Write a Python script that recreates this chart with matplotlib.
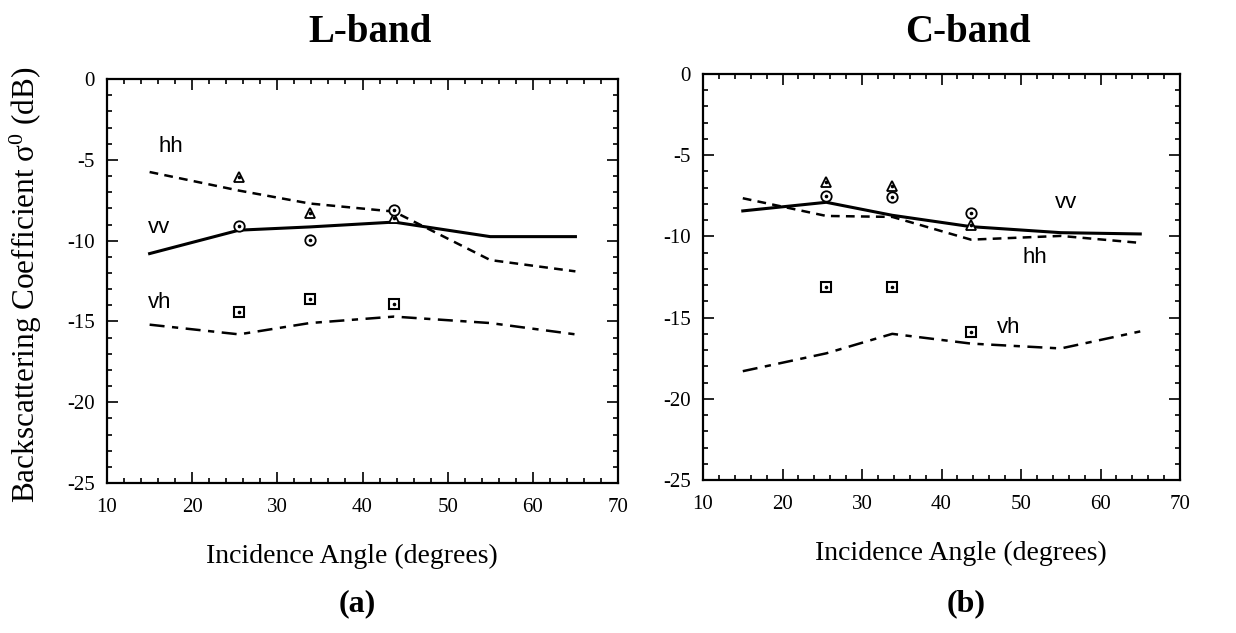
import matplotlib
matplotlib.use("Agg")
import matplotlib.pyplot as plt
from matplotlib.ticker import MultipleLocator

# === DATA ===
model_angles = [15, 25.5, 33.8, 43.7, 55, 65]
obs_angles = [25.5, 33.8, 43.7]

# L-band model curves
l_hh = [-5.75, -6.9, -7.7, -8.2, -11.2, -11.9]
l_vv = [-10.8, -9.35, -9.15, -8.85, -9.75, -9.75]
l_vh = [-15.2, -15.8, -15.1, -14.7, -15.1, -15.8]
# L-band measurements
l_hh_obs = [-6.05, -8.3, -8.6]
l_vv_obs = [-9.1, -9.95, -8.1]
l_vh_obs = [-14.4, -13.6, -13.9]

# C-band model curves
c_hh = [-7.65, -8.74, -8.8, -10.2, -9.97, -10.4]
c_vv = [-8.43, -7.9, -8.7, -9.4, -9.77, -9.85]
c_vh = [-18.3, -17.2, -16.0, -16.6, -16.9, -15.85]
# C-band measurements
c_hh_obs = [-6.65, -6.9, -9.3]
c_vv_obs = [-7.5, -7.6, -8.55]
c_vh_obs = [-13.1, -13.1, -15.9]

plt.rcParams["axes.unicode_minus"] = False
plt.rcParams["mathtext.fontset"] = "custom"
plt.rcParams["mathtext.rm"] = "Liberation Serif"
plt.rcParams["mathtext.it"] = "Liberation Serif:italic"
plt.rcParams["mathtext.bf"] = "Liberation Serif:bold"

serif = "Liberation Serif"
sans = "Liberation Sans"

fig = plt.figure(figsize=(12.36, 6.33), dpi=100)
ax1 = fig.add_axes([0.0866, 0.237, 0.4134, 0.638])
ax2 = fig.add_axes([0.5688, 0.2417, 0.3859, 0.6414])


def draw_panel(ax, hh, vv, vh, hh_o, vv_o, vh_o, label_x):
    ax.plot(model_angles, vv, color="black", lw=2.2, ls="-")
    ax.plot(model_angles, hh, color="black", lw=1.8, ls=(0, (3.5, 2.5)))
    ax.plot(model_angles, vh, color="black", lw=1.8, ls=(0, (6, 3, 2.5, 3)))
    ax.plot(obs_angles, hh_o, ls="none", marker="^", ms=7.5, mfc="white", mec="black", mew=1.3)
    ax.plot(obs_angles, vv_o, ls="none", marker="o", ms=7.5, mfc="white", mec="black", mew=1.3)
    ax.plot(obs_angles, vh_o, ls="none", marker="s", ms=7, mfc="white", mec="black", mew=1.5)
    for vals in (hh_o, vv_o, vh_o):
        ax.plot(obs_angles, vals, ls="none", marker="o", ms=1.6, color="black")

    ax.set_xlim(10, 70)
    ax.set_ylim(-25, 0)
    ax.xaxis.set_major_locator(MultipleLocator(10))
    ax.xaxis.set_minor_locator(MultipleLocator(2))
    ax.yaxis.set_major_locator(MultipleLocator(5))
    ax.yaxis.set_minor_locator(MultipleLocator(1))
    ax.tick_params(which="both", direction="in", top=True, right=True, width=1.2)
    ax.tick_params(which="major", length=8, labelsize=15)
    ax.tick_params(axis="x", which="major", pad=11)
    ax.tick_params(axis="y", which="major", pad=9)
    ax.tick_params(which="minor", length=3.5)
    for lab in ax.get_xticklabels() + ax.get_yticklabels():
        lab.set_fontfamily(serif)
    for sp in ax.spines.values():
        sp.set_linewidth(1.6)
    ax.set_xlabel("Incidence Angle (degrees)", fontsize=20, family=serif)
    ax.xaxis.set_label_coords(label_x, -0.15)


draw_panel(ax1, l_hh, l_vv, l_vh, l_hh_obs, l_vv_obs, l_vh_obs, 0.48)
draw_panel(ax2, c_hh, c_vv, c_vh, c_hh_obs, c_vv_obs, c_vh_obs, 0.54)

# curve labels
ax1.text(16.0, -4.2, "hh", fontsize=16, family=sans, va="center")
ax1.text(14.8, -9.2, "vv", fontsize=16, family=sans, va="center")
ax1.text(14.8, -13.8, "vh", fontsize=16, family=sans, va="center")
ax2.text(54.3, -7.9, "vv", fontsize=16, family=sans, va="center")
ax2.text(50.2, -11.3, "hh", fontsize=16, family=sans, va="center")
ax2.text(47.0, -15.6, "vh", fontsize=16, family=sans, va="center")

fig.text(0.021, 0.55, r"Backscattering Coefficient σ$^0$ (dB)", fontsize=22.5,
         family=serif, rotation=90, ha="center", va="center")

fig.text(0.299, 0.949, "L-band", fontsize=28, family=serif, fontweight="bold",
         ha="center", va="center")
fig.text(0.783, 0.949, "C-band", fontsize=28, family=serif, fontweight="bold",
         ha="center", va="center")
fig.text(0.289, 0.047, "(a)", fontsize=23, family=serif, fontweight="bold",
         ha="center", va="center")
fig.text(0.782, 0.047, "(b)", fontsize=23, family=serif, fontweight="bold",
         ha="center", va="center")

fig.savefig("out.png", dpi=100, facecolor="white")
